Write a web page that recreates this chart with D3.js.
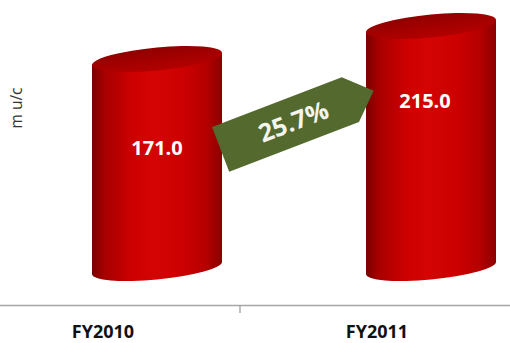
<!DOCTYPE html>
<html>
<head>
<meta charset="utf-8">
<script src="https://cdn.jsdelivr.net/npm/d3@7"></script>
<style>
  html, body { margin: 0; padding: 0; background: #fff; }
  svg { display: block; }
</style>
</head>
<body>
<svg id="chart" width="510" height="343"></svg>
<script>
// Fiscal years and their values (m u/c)
const categories = ["FY2010", "FY2011"];
const values = [171.0, 215.0];
const axisTitle = "m u/c";

// Layout
const W = 510, H = 343;
const baseY = 268;          // centre line of the cylinders' bottom ellipses
const topY = 26;            // centre line of the tallest cylinder's top
const axisY = 305;          // category axis line
const floorValue = -108;    // value the 3-D floor sits at (perspective offset)
const depthShift = 54;      // cylinders sit right of their category centre
const rx = 65, ry = 11.5, skewDeg = -5.3;
const labelDrop = [96, 82];
const labelShift = [0, -6];

const svg = d3.select("#chart");
const defs = svg.append("defs");

// Side shading of a cylinder
const body = defs.append("linearGradient").attr("id", "cylBody")
  .attr("x1", "0").attr("x2", "1").attr("y1", "0").attr("y2", "0");
[["0%", "#7a0000"], ["10%", "#a80000"], ["32%", "#cf0000"], ["48%", "#d40404"],
 ["70%", "#cc0000"], ["88%", "#b40000"], ["100%", "#8c0000"]]
  .forEach(([o, c]) => body.append("stop").attr("offset", o).attr("stop-color", c));

// Top cap shading
const cap = defs.append("linearGradient").attr("id", "cylTop")
  .attr("x1", "0.3").attr("x2", "0.5").attr("y1", "0").attr("y2", "1");
[["0%", "#8e0000"], ["50%", "#a20000"], ["100%", "#b20000"]]
  .forEach(([o, c]) => cap.append("stop").attr("offset", o).attr("stop-color", c));

// Scales
const x = d3.scaleBand().domain(categories).range([-34, 514]);
const y = d3.scaleLinear().domain([floorValue, d3.max(values)]).range([baseY, topY]);

// Category axis
const xAxis = d3.axisBottom(x).tickSize(0).tickPadding(20).tickSizeOuter(0);
const gx = svg.append("g").attr("transform", `translate(0,${axisY})`).call(xAxis);
gx.select(".domain").attr("stroke", "#a6a6a6").attr("stroke-width", 1.6);
gx.selectAll(".tick text")
  .attr("font-family", "'Open Sans', 'DejaVu Sans', sans-serif")
  .attr("font-weight", "bold").attr("font-size", 18).attr("fill", "#111");
// divider tick between the two categories
gx.append("line")
  .attr("x1", x(categories[1])).attr("x2", x(categories[1]))
  .attr("y1", 0).attr("y2", 8)
  .attr("stroke", "#a6a6a6").attr("stroke-width", 1.4);

// Value axis title
svg.append("text")
  .attr("transform", `translate(22,108) rotate(-90)`)
  .attr("text-anchor", "middle")
  .attr("font-family", "'Open Sans', 'DejaVu Sans', sans-serif")
  .attr("font-size", 15.5).attr("fill", "#333")
  .text(axisTitle);

// Cylinders
const bars = categories.map((c, i) => ({ c, v: values[i], i }));
const cyl = svg.selectAll("g.cyl").data(bars).join("g")
  .attr("class", "cyl")
  .attr("transform", d => {
    const cx = x(d.c) + x.bandwidth() / 2 + depthShift;
    return `translate(${cx},0) skewY(${skewDeg}) translate(${-cx},0)`;
  });

cyl.append("path")
  .attr("fill", "url(#cylBody)")
  .attr("d", d => {
    const cx = x(d.c) + x.bandwidth() / 2 + depthShift;
    const yt = y(d.v), yb = y(floorValue);
    return `M${cx - rx},${yt} L${cx - rx},${yb} A${rx},${ry} 0 0 0 ${cx + rx},${yb} L${cx + rx},${yt} Z`;
  });

cyl.append("ellipse")
  .attr("cx", d => x(d.c) + x.bandwidth() / 2 + depthShift)
  .attr("cy", d => y(d.v))
  .attr("rx", rx).attr("ry", ry)
  .attr("fill", "url(#cylTop)");

// Value labels
svg.selectAll("text.val").data(bars).join("text")
  .attr("class", "val")
  .attr("x", d => x(d.c) + x.bandwidth() / 2 + depthShift + labelShift[d.i])
  .attr("y", d => y(d.v) + labelDrop[d.i])
  .attr("text-anchor", "middle")
  .attr("font-family", "'Open Sans', 'DejaVu Sans', sans-serif")
  .attr("font-weight", "bold").attr("font-size", 20).attr("fill", "#fff")
  .text(d => d.v.toFixed(1));

// Growth arrow between the years
const growth = (values[1] - values[0]) / values[0] * 100;
const arrowLen = 164, shoulder = 139, arrowH = 48;
const arrow = svg.append("g").attr("transform", "translate(212,127) rotate(-21)");
arrow.append("path")
  .attr("d", `M0,0 L${shoulder},0 L${arrowLen},${arrowH / 2} L${shoulder},${arrowH} L0,${arrowH} Z`)
  .attr("fill", "#53692d");
arrow.append("text")
  .attr("x", arrowLen / 2 - 4).attr("y", arrowH / 2 + 9)
  .attr("text-anchor", "middle")
  .attr("font-family", "'Open Sans', 'DejaVu Sans', sans-serif")
  .attr("font-weight", "bold").attr("font-size", 25).attr("fill", "#f4f4ee")
  .text(growth.toFixed(1) + "%");
</script>
</body>
</html>
